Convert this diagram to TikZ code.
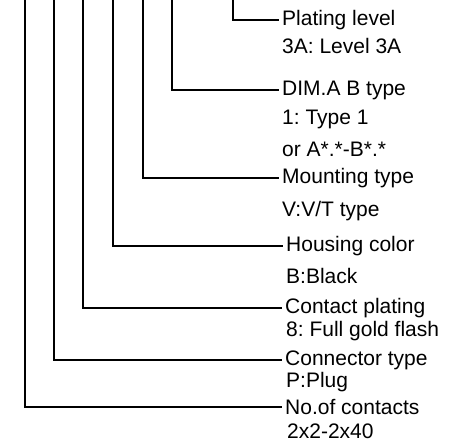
\documentclass[tikz,border=0pt]{standalone}
\usepackage{fontspec}
\setmainfont{Liberation Sans}
\frenchspacing
\begin{document}
\begin{tikzpicture}[x=1pt,y=-1pt,
    txt/.style={anchor=west,inner xsep=3pt,inner ysep=0pt,font=\fontsize{21}{24}\selectfont},
    lead/.style={line width=1.6pt}]

      \useasboundingbox (0,0) rectangle (451,445);

      \coordinate (t1) at (25,0);
      \coordinate (t2) at (54,0);
      \coordinate (t3) at (83,0);
      \coordinate (t4) at (113,0);
      \coordinate (t5) at (143,0);
      \coordinate (t6) at (172,0);
      \coordinate (t7) at (233,0);

      \node[txt] (plat) at (279,20) {Plating level};
      \node[txt] () at (279,46) {3A: Level 3A};
      \node[txt] (dim) at (279,90) {DIM.A B type};
      \node[txt] () at (279,119) {1: Type 1};
      \node[txt] () at (279,149) {or A*.*-B*.*};
      \node[txt] (mount) at (279,178) {Mounting type};
      \node[txt] () at (279,211) {V:V/T type};
      \node[txt] (house) at (283,246) {Housing color};
      \node[txt] () at (283,276) {B:Black};
      \node[txt] (cplat) at (282,308) {Contact plating};
      \node[txt] () at (283,331) {8: Full gold flash};
      \node[txt] (ctype) at (282,360) {Connector type};
      \node[txt] () at (283,382) {P:Plug};
      \node[txt] (num) at (282,407) {No.of contacts};
      \node[txt] () at (284,431) {2x2-2x40};

      \draw[lead] (t7) |- (plat.west);
      \draw[lead] (t6) |- (dim.west);
      \draw[lead] (t5) |- (mount.west);
      \draw[lead] (t4) |- (house.west);
      \draw[lead] (t3) |- (cplat.west);
      \draw[lead] (t2) |- (ctype.west);
      \draw[lead] (t1) |- (num.west);

    \end{tikzpicture}
\end{document}
